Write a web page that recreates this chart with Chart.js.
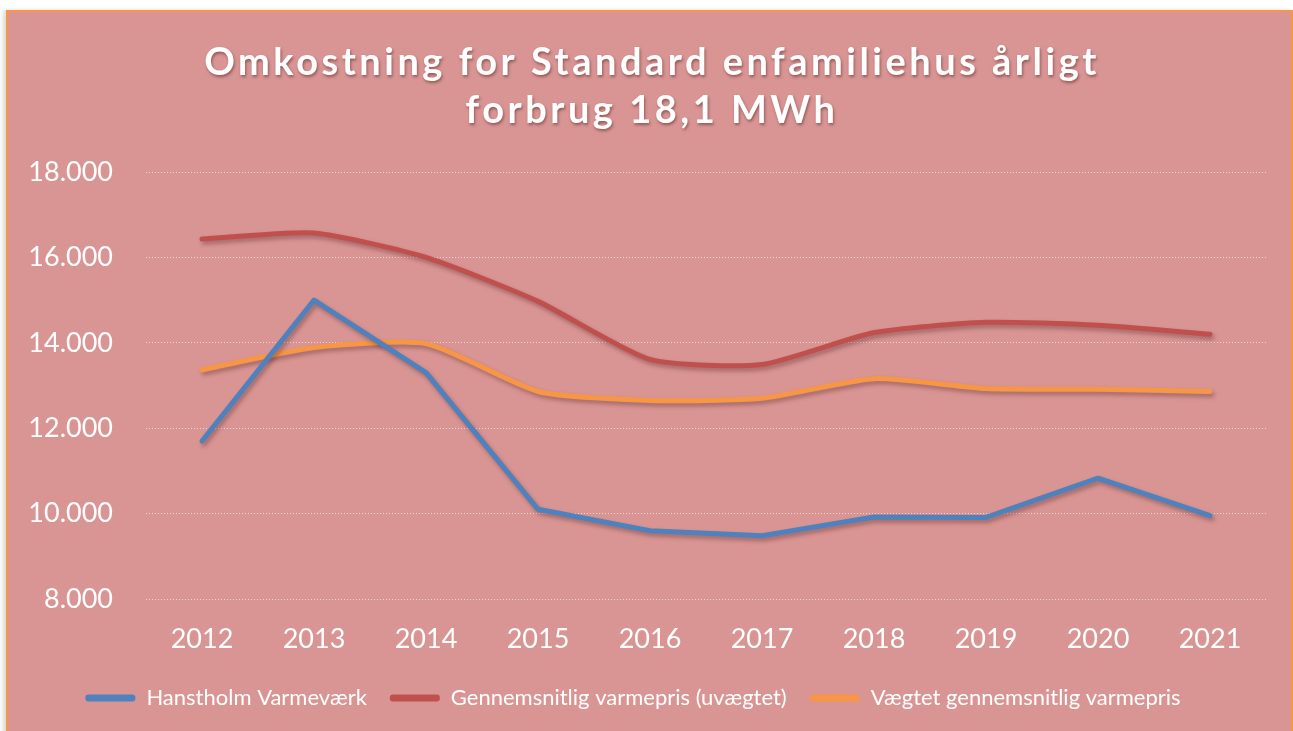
<!DOCTYPE html>
<html>
<head>
<meta charset="utf-8">
<script src="https://cdn.jsdelivr.net/npm/chart.js@4.4.0/dist/chart.umd.min.js"></script>
<style>
  html, body { margin: 0; padding: 0; background: #fff; }
  #frame {
    position: absolute; left: 6px; top: 10px; width: 1283px; height: 740px;
    background: #d99594; border: 2px solid #f79646;
    box-shadow: -3px 0 4px rgba(0, 0, 0, 0.15);
  }
  #wrap { position: absolute; left: 0; top: 0; width: 1293px; height: 731px; }
</style>
</head>
<body>
<div id="frame"></div>
<div id="wrap"><canvas id="costChart"></canvas></div>
<script>
  const years = ["2012", "2013", "2014", "2015", "2016", "2017", "2018", "2019", "2020", "2021"];
  const hanstholm = [11700, 15000, 13300, 10100, 9600, 9480, 9920, 9910, 10830, 9950];
  const avgUnweighted = [16430, 16570, 16000, 14970, 13610, 13490, 14240, 14480, 14410, 14200];
  const avgWeighted = [13370, 13890, 13980, 12860, 12650, 12700, 13160, 12930, 12910, 12860];
  const titleLines = ["Omkostning for Standard enfamiliehus årligt", "forbrug 18,1 MWh"];

  const FONT = "Lato, 'Open Sans', sans-serif";

  // skygge under linjerne
  const lineShadow = {
    id: "lineShadow",
    beforeDatasetsDraw(chart) {
      const ctx = chart.ctx;
      ctx.save();
      ctx.shadowColor = "rgba(60, 20, 20, 0.35)";
      ctx.shadowBlur = 4;
      ctx.shadowOffsetX = 2;
      ctx.shadowOffsetY = 3;
    },
    afterDatasetsDraw(chart) {
      chart.ctx.restore();
    },
  };

  // titel med spærret skrift og skygge
  const spacedTitle = {
    id: "spacedTitle",
    afterDraw(chart) {
      const ctx = chart.ctx;
      ctx.save();
      ctx.font = "bold 38px " + FONT;
      ctx.letterSpacing = "3.5px";
      ctx.fillStyle = "#ffffff";
      ctx.textAlign = "center";
      ctx.textBaseline = "alphabetic";
      ctx.shadowColor = "rgba(80, 30, 30, 0.5)";
      ctx.shadowBlur = 3;
      ctx.shadowOffsetX = 1;
      ctx.shadowOffsetY = 2;
      ctx.fillText(titleLines[0], 652, 75);
      ctx.fillText(titleLines[1], 652, 123);
      ctx.restore();
    },
  };

  function makeSet(label, data, color, tension) {
    return {
      label: label,
      data: data,
      borderColor: color,
      backgroundColor: color,
      borderWidth: 5,
      pointRadius: 0,
      pointHoverRadius: 0,
      tension: tension,
      borderCapStyle: "round",
      borderJoinStyle: "round",
      fill: false,
    };
  }

  new Chart(document.getElementById("costChart"), {
    type: "line",
    data: {
      labels: years,
      datasets: [
        makeSet("Hanstholm Varmeværk", hanstholm, "#4f81bd", 0),
        makeSet("Gennemsnitlig varmepris (uvægtet)", avgUnweighted, "#c0504d", 0.2),
        makeSet("Vægtet gennemsnitlig varmepris", avgWeighted, "#f79646", 0.2),
      ],
    },
    options: {
      responsive: true,
      maintainAspectRatio: false,
      animation: false,
      layout: {
        padding: { top: 172, left: 0, right: 27, bottom: 12 },
      },
      scales: {
        x: {
          offset: true,
          grid: { display: false, drawTicks: false },
          border: { display: false },
          ticks: {
            color: "#ffffff",
            font: { family: FONT, size: 27 },
            padding: 24,
            maxRotation: 0,
          },
          afterFit(scale) {
            scale.height = 65;
          },
        },
        y: {
          min: 8000,
          max: 18000,
          grid: {
            color: "rgba(255, 255, 255, 0.6)",
            lineWidth: 1,
            drawTicks: false,
          },
          border: { display: false, dash: [1, 2] },
          ticks: {
            stepSize: 2000,
            color: "#ffffff",
            font: { family: FONT, size: 27 },
            padding: 33,
            callback: (v) => v.toLocaleString("da-DK"),
          },
          afterFit(scale) {
            scale.width = 146;
          },
        },
      },
      plugins: {
        title: { display: false },
        tooltip: { enabled: false },
        legend: {
          position: "bottom",
          labels: {
            color: "#ffffff",
            font: { family: FONT, size: 22 },
            boxWidth: 50,
            boxHeight: 7,
            padding: 23,
            useBorderRadius: true,
            borderRadius: 3,
            generateLabels(chart) {
              const items = Chart.defaults.plugins.legend.labels.generateLabels(chart);
              items.forEach((it) => {
                it.lineWidth = 0;
                it.strokeStyle = "transparent";
              });
              return items;
            },
          },
        },
      },
    },
    plugins: [lineShadow, spacedTitle],
  });
</script>
</body>
</html>
